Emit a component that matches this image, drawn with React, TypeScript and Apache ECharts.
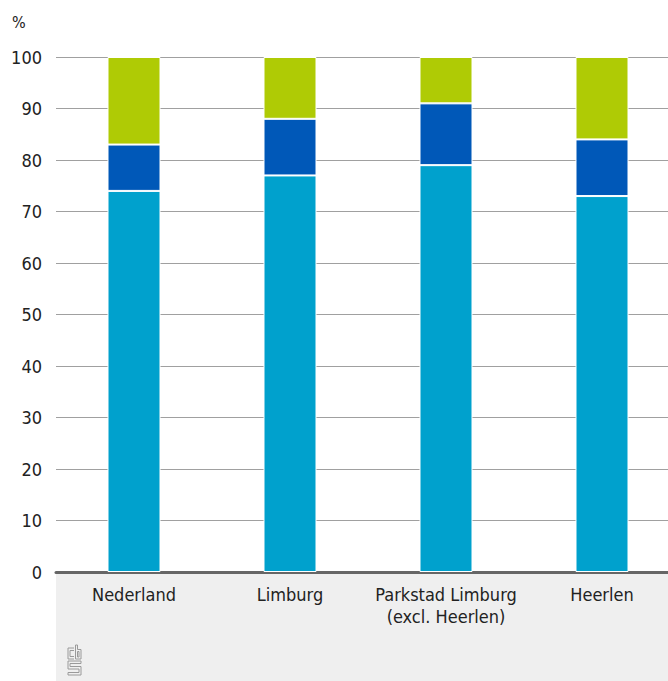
import React, { useEffect, useRef } from "react";
import * as echarts from "echarts";

const categories = ["Nederland", "Limburg", "Parkstad Limburg\n(excl. Heerlen)", "Heerlen"];
const seriesNames = ["Categorie 1", "Categorie 2", "Categorie 3"];
const seriesLight = [74, 77, 79, 73];
const seriesDark = [9, 11, 12, 11];
const seriesGreen = [17, 12, 9, 16];
const seriesColors = ["#00a1cd", "#0058b8", "#afcb05"];
const yMin = 0;
const yMax = 100;
const yInterval = 10;

function logoElements(ox: number, oy: number) {
  const style = { fill: "none", stroke: "#9a9a9a", lineWidth: 1 };
  const pts = (arr: number[][]) => arr.map(([x, y]) => [ox + x, oy + y]);
  return [
    { type: "polyline", shape: { points: pts([[7, 3], [1, 3], [1, 14], [7, 14]]) }, style },
    { type: "polyline", shape: { points: pts([[7, 5.5], [3, 5.5], [3, 11.5], [7, 11.5]]) }, style },
    { type: "polygon", shape: { points: pts([[8.5, 0], [8.5, 14], [14, 14], [14, 4.5], [10.5, 4.5], [10.5, 0]]) }, style },
    { type: "polygon", shape: { points: pts([[10.5, 6.5], [12, 6.5], [12, 12], [10.5, 12]]) }, style },
    {
      type: "polygon",
      shape: {
        points: pts([[14, 16], [1, 16], [1, 24], [12, 24], [12, 27.5], [1, 27.5], [1, 30], [14, 30], [14, 21.5], [3, 21.5], [3, 18.5], [14, 18.5]]),
      },
      style,
    },
  ];
}

export default function App() {
  const ref = useRef<HTMLDivElement>(null);
  useEffect(() => {
    document.body.style.margin = "0";
    const chart = echarts.init(ref.current!, null, { renderer: "svg" });
    const font = "'DejaVu Sans Condensed', 'Liberation Sans', sans-serif";
    const data = [seriesLight, seriesDark, seriesGreen];
    chart.setOption({
      animation: false,
      grid: { left: 56, top: 57, bottom: 109, right: -12, containLabel: false, outerBoundsMode: "none" },
      xAxis: {
        type: "category",
        data: categories,
        axisTick: { show: false },
        axisLine: { show: true, lineStyle: { color: "#666666", width: 3 } },
        axisLabel: {
          color: "#222222",
          fontSize: 18,
          fontFamily: font,
          margin: 11,
          lineHeight: 22,
          interval: 0,
        },
      },
      yAxis: {
        type: "value",
        min: yMin,
        max: yMax,
        interval: yInterval,
        axisLine: { show: false },
        axisTick: { show: false },
        splitLine: { lineStyle: { color: "#a0a0a0", width: 1 } },
        axisLabel: { color: "#222222", fontSize: 18, fontFamily: font, margin: 14 },
      },
      series: data.map((d, i) => ({
        name: seriesNames[i],
        type: "bar",
        stack: "total",
        data: d,
        barWidth: 53,
        itemStyle: { color: seriesColors[i], borderColor: "#ffffff", borderWidth: 1 },
      })),
      graphic: [
        {
          type: "rect",
          z: -1,
          shape: { x: 56, y: 572, width: 612, height: 109 },
          style: { fill: "#efefef" },
        },
        {
          type: "text",
          x: 12,
          y: 14,
          style: { text: "%", fontSize: 16, fontFamily: font, fill: "#222222" },
        },
        ...logoElements(67, 645),
      ],
    });
    return () => chart.dispose();
  }, []);
  return <div ref={ref} style={{ width: 668, height: 681 }} />;
}
